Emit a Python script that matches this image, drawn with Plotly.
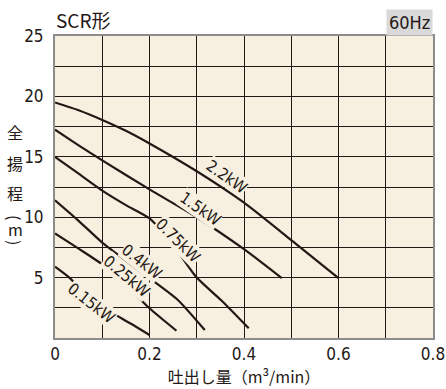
import plotly.graph_objects as go

# ---- data ----
series_names = ["2.2kW", "1.5kW", "0.75kW", "0.4kW", "0.25kW", "0.15kW"]
q_22 = [0, 0.05, 0.1, 0.15, 0.2, 0.3, 0.4, 0.5, 0.6]
h_22 = [19.5, 18.85, 18.05, 17.15, 16.1, 13.8, 11.2, 8.1, 4.95]
q_15 = [0, 0.05, 0.1, 0.2, 0.3, 0.4, 0.48]
h_15 = [17.25, 15.95, 14.7, 12.3, 10.0, 7.35, 4.95]
q_075 = [0, 0.05, 0.1, 0.15, 0.2, 0.25, 0.3, 0.355, 0.41]
h_075 = [15.0, 13.6, 12.2, 11.0, 9.9, 7.7, 5.0, 3.0, 0.8]
q_04 = [0, 0.05, 0.1, 0.15, 0.2, 0.26, 0.317]
h_04 = [11.4, 9.7, 7.9, 6.4, 4.95, 3.15, 0.66]
q_025 = [0, 0.05, 0.1, 0.15, 0.2, 0.257]
h_025 = [8.66, 7.4, 6.1, 4.4, 2.46, 0.6]
q_015 = [0, 0.032, 0.08, 0.12, 0.16, 0.2]
h_015 = [5.9, 4.94, 3.1, 2.1, 1.2, 0.25]

label_x = [0.363, 0.307, 0.261, 0.183, 0.152, 0.078]
label_y = [13.35, 10.74, 8.1, 6.3, 5.07, 2.87]
label_angle = [35, 35, 45, 38, 40, 38]

x_ticks = [0, 0.2, 0.4, 0.6, 0.8]
x_tick_text = ["0", "0.2", "0.4", "0.6", "0.8"]
y_ticks = [5, 10, 15, 20, 25]
y_title_chars = ["全", "揚", "程", "(", "m", ")"]
y_title_angle = [0, 0, 0, 90, 0, 90]
y_title_pos = [132, 163, 193, 217, 229, 242]

BG = "#F7EFDF"
INK = "#231815"
FONT = "Liberation Sans Narrow, DejaVu Sans Condensed, sans-serif"
CJK = "Noto Sans CJK JP, sans-serif"

fig = go.Figure()
for qs, hs in [(q_22, h_22), (q_15, h_15), (q_075, h_075), (q_04, h_04), (q_025, h_025), (q_015, h_015)]:
    fig.add_trace(go.Scatter(x=qs, y=hs, mode="lines",
                             line=dict(color=INK, width=2.2, shape="spline", smoothing=0.6),
                             hoverinfo="skip", showlegend=False))

for name, lx, ly, ang in zip(series_names, label_x, label_y, label_angle):
    fig.add_annotation(x=lx, y=ly, text=name, showarrow=False, textangle=ang,
                       font=dict(family=FONT, size=16, color=INK),
                       bgcolor=BG, borderpad=0)

def py2paper(py):
    return (338 - py) / 302

def px2paper(px):
    return (px - 55) / 378

fig.add_annotation(xref="paper", yref="paper", x=px2paper(54), y=py2paper(20),
                   xanchor="left", yanchor="middle", text="SCR形", showarrow=False,
                   font=dict(family=CJK, size=19, color=INK))
fig.add_annotation(xref="paper", yref="paper", x=1, y=1.0, xanchor="right", yanchor="bottom",
                   text="60Hz", showarrow=False, bgcolor="#D9D9D9", borderpad=2,
                   font=dict(family=FONT, size=18, color=INK))
for ch, ang, py in zip(y_title_chars, y_title_angle, y_title_pos):
    fig.add_annotation(xref="paper", yref="paper", x=px2paper(15), y=py2paper(py),
                       xanchor="center", yanchor="middle", text=ch, showarrow=False,
                       textangle=ang, font=dict(family=CJK, size=16, color=INK))

fig.update_layout(
    width=446, height=389,
    margin=dict(l=55, r=13, t=36, b=51),
    paper_bgcolor="white", plot_bgcolor=BG,
    xaxis=dict(range=[0, 0.8], tickvals=x_ticks, ticktext=x_tick_text, automargin=False,
               showgrid=True, gridcolor=INK, gridwidth=1,
               minor=dict(dtick=0.1, showgrid=True, gridcolor=INK, gridwidth=1),
               showline=True, linecolor="#8c8c8c", linewidth=2, mirror=True, zeroline=False,
               ticks="", tickfont=dict(family=FONT, size=17, color=INK),
               title=dict(text="吐出し量（m³/min）", standoff=2,
                          font=dict(family=CJK, size=16, color=INK))),
    yaxis=dict(range=[0, 25], tickvals=y_ticks, automargin=False,
               showgrid=True, gridcolor=INK, gridwidth=1,
               minor=dict(dtick=2.5, showgrid=True, gridcolor=INK, gridwidth=1),
               showline=True, linecolor="#8c8c8c", linewidth=2, mirror=True, zeroline=False,
               ticks="", ticklabelstandoff=6, tickfont=dict(family=FONT, size=17, color=INK)),
)

fig.write_html("out.html", config={"displayModeBar": False},
               post_script="document.body.style.margin='0';document.body.style.padding='0';")
